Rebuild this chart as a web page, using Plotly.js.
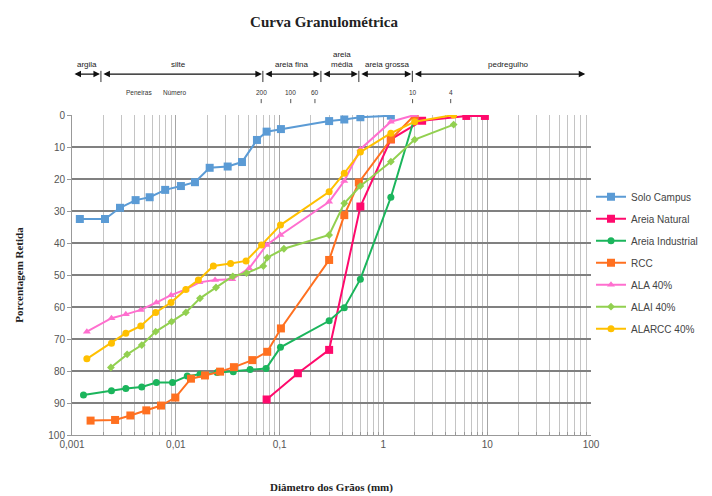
<!DOCTYPE html>
<html>
<head>
<meta charset="utf-8">
<script src="https://cdn.plot.ly/plotly-3.0.1.min.js"></script>
<style>html,body{margin:0;padding:0;background:#fff;}#chart{width:712px;height:496px;}</style>
</head>
<body>
<div id="chart"></div>
<script>
// ---- Data (diameter in mm, percentage retained) ----
const soloX = [0.00119,0.00208,0.0029,0.0041,0.0056,0.0079,0.0112,0.0153,0.0212,0.0316,0.0434,0.0605,0.075,0.103,0.3,0.42,0.6,1.18];
const soloY = [32.5,32.5,29,26.6,25.7,23.4,22.2,21,16.5,16.1,14.7,7.8,5.2,4.4,1.9,1.4,0.7,0.2];

const naturalX = [0.075,0.15,0.3,0.6,1.18,2.36,6.3,9.5];
const naturalY = [88.9,80.7,73.4,28.6,7.6,1.8,0.3,0.3];

const industrialX = [0.00129,0.0024,0.0033,0.0047,0.0065,0.0093,0.0129,0.0171,0.025,0.0358,0.052,0.074,0.102,0.3,0.42,0.6,1.18,2.0];
const industrialY = [87.5,86.2,85.5,85,83.6,83.6,81.6,81,80.5,80.2,79.5,79.2,72.6,64.3,60.2,51.3,25.7,0.8];

const rccX = [0.00151,0.0026,0.00365,0.0052,0.0072,0.0099,0.014,0.0191,0.0267,0.0363,0.0546,0.076,0.103,0.3,0.42,0.58,1.18,2.0];
const rccY = [95.5,95.3,93.9,92.3,90.8,88.3,82.4,81.4,80.2,78.8,76.6,74,66.7,45.3,31.3,21.1,7.6,0];

const alaX = [0.00139,0.0024,0.0033,0.0046,0.0065,0.009,0.0125,0.0169,0.0239,0.035,0.0509,0.075,0.102,0.3,0.42,0.6,1.18,2.0];
const alaY = [67.7,63.5,62.3,60.9,58.6,56.3,54.5,52.3,51.6,51.3,47.9,40.6,37.5,27.1,20.6,10.7,2.1,0];

const alaiX = [0.00237,0.0034,0.0047,0.0064,0.0091,0.0125,0.0171,0.0244,0.0354,0.048,0.0697,0.076,0.11,0.3,0.42,0.6,1.18,2.0,4.75];
const alaiY = [78.9,74.8,71.9,67.7,64.6,61.7,57.3,53.9,50.4,49.4,47.2,44.6,41.8,37.5,27.6,22.2,14.6,7.7,3];

const alarccX = [0.00139,0.0024,0.0033,0.0046,0.0064,0.009,0.0125,0.0165,0.023,0.0337,0.0475,0.067,0.102,0.3,0.42,0.6,1.18,2.0,4.75];
const alarccY = [76.2,71.3,68.2,65.9,61.7,58.6,54.5,51.6,47.2,46.4,45.6,40.6,34.4,24,18.2,11.6,5.7,2.1,0];

const seriesNames = ['Solo Campus','Areia Natural','Areia Industrial','RCC','ALA 40%','ALAI 40%','ALARCC 40%'];

// tick labels
const xTickVals = [0.001,0.01,0.1,1,10,100];
const xTickText = ['0,001','0,01','0,1','1','10','100'];

// soil classification (NBR 6502) as drawn on the chart
const classNames = ['argila','silte','areia fina','areia<br>média','areia grossa','pedregulho'];
const classBounds = [0.001,0.0019,0.069,0.25,0.58,1.9,90];
const classLabelX = [0.00139,0.0106,0.131,0.396,1.107,16];

// sieve numbers
const sieveNumbers = ['200','100','60','10','4'];
const sieveLabelX = [0.0665,0.128,0.219,1.91,4.45];

// ---- styles ----
const colors = ['#5B9BD5','#FF0A6C','#1BB55C','#FF7020','#FF6FCF','#92D050','#FFC000'];
const symbols = ['square','square','circle','square','triangle-up','diamond','circle'];
const sizes = [8,8,7,8,7,6,7];
const xs = [soloX,naturalX,industrialX,rccX,alaX,alaiX,alarccX];
const ys = [soloY,naturalY,industrialY,rccY,alaY,alaiY,alarccY];

const traces = seriesNames.map((n,i)=>({
  type:'scatter', mode:'lines+markers', name:n, x:xs[i], y:ys[i],
  legendgroup:'g'+i,
  line:{color:colors[i], width:2},
  marker:{color:colors[i], symbol:symbols[i], size:sizes[i]}
}));

const smallFont = {family:'Liberation Sans, Arial, sans-serif', size:6.5, color:'#333'};
const lineYpaper = 1.128;
const annotations = [];
const shapes = [];
for(let i=0;i<classNames.length;i++){
  annotations.push({
    xref:'x', yref:'paper', x:Math.log10(classBounds[i+1]), y:lineYpaper,
    axref:'x', ayref:'pixel', ax:Math.log10(classBounds[i]), ay:0,
    text:'', showarrow:true, arrowhead:2, arrowside:'end+start', arrowsize:1,
    arrowwidth:1.3, arrowcolor:'#111', standoff:1, startstandoff:1
  });
  annotations.push({
    xref:'x', yref:'paper', x:Math.log10(classLabelX[i]), y:lineYpaper+0.008,
    yanchor:'bottom', xanchor:'center', showarrow:false, text:classNames[i],
    font:{family:'Liberation Sans, Arial, sans-serif', size:8, color:'#222'}
  });
}
for(let i=1;i<classBounds.length-1;i++){
  shapes.push({type:'line', xref:'x', yref:'paper', x0:classBounds[i], x1:classBounds[i],
    y0:1.103, y1:1.138, line:{color:'#333', width:1}});
}
annotations.push({xref:'x', yref:'paper', x:Math.log10(0.0044), y:1.069, yanchor:'middle', showarrow:false,
  text:'Peneiras', font:smallFont});
annotations.push({xref:'x', yref:'paper', x:Math.log10(0.0098), y:1.069, yanchor:'middle', showarrow:false,
  text:'Número', font:smallFont});
sieveNumbers.forEach((s,i)=>{
  annotations.push({xref:'x', yref:'paper', x:Math.log10(sieveLabelX[i]), y:1.069, yanchor:'middle', showarrow:false,
    text:s, font:smallFont});
  shapes.push({type:'line', xref:'x', yref:'paper', x0:sieveLabelX[i], x1:sieveLabelX[i],
    y0:1.037, y1:1.05, line:{color:'#555', width:1}});
});

const layout = {
  width:712, height:496,
  margin:{l:72, r:121, t:115, b:61, autoexpand:false},
  paper_bgcolor:'#fff', plot_bgcolor:'#fff',
  title:{text:'<b>Curva Granulométrica</b>', x:324/712, xanchor:'center', y:1-22/496, yanchor:'middle',
    font:{family:'Liberation Serif, Times New Roman, serif', size:15, color:'#222'}},
  font:{family:'Liberation Sans, Arial, sans-serif', size:10, color:'#555'},
  xaxis:{type:'log', range:[-3,2], tickvals:xTickVals, ticktext:xTickText,
    showgrid:true, gridcolor:'#a6a6a6', gridwidth:1,
    minor:{dtick:'D1', showgrid:true, gridcolor:'#c4c4c4', gridwidth:1, ticks:'inside', ticklen:3, tickcolor:'#999'},
    ticks:'inside', ticklen:3, tickcolor:'#999',
    showline:true, linecolor:'#999', linewidth:1, zeroline:false,
    tickfont:{size:10, color:'#555'},
    title:{text:'<b>Diâmetro dos Grãos (mm)</b>', standoff:34,
      font:{family:'Liberation Serif, Times New Roman, serif', size:11, color:'#222'}}},
  yaxis:{range:[100,0], dtick:10, showgrid:true, gridcolor:'#808080', gridwidth:1.2,
    ticks:'outside', ticklen:4, tickcolor:'#999', showline:true, linecolor:'#999', zeroline:false,
    tickfont:{size:10, color:'#555'},
    title:{text:'<b>Porcentagem Retida</b>', standoff:22,
      font:{family:'Liberation Serif, Times New Roman, serif', size:11, color:'#222'}}},
  legend:{x:1.0, xanchor:'left', y:0.79, yanchor:'top', bgcolor:'rgba(0,0,0,0)',
    font:{family:'Liberation Sans, Arial, sans-serif', size:10, color:'#444'},
    tracegroupgap:3, itemwidth:30},
  annotations:annotations,
  shapes:shapes,
  showlegend:true
};

Plotly.newPlot('chart', traces, layout, {displayModeBar:false, staticPlot:true});
</script>
</body>
</html>
